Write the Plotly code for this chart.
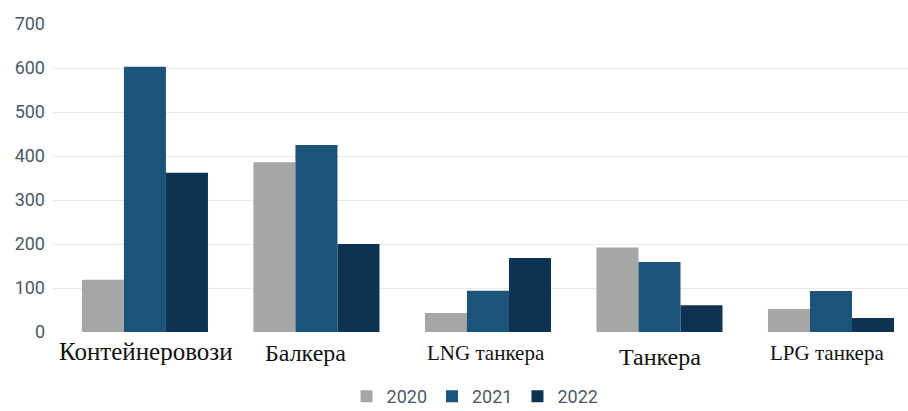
import plotly.graph_objects as go

# Fleet segments and yearly values
categories = ["Контейнеровози", "Балкера", "LNG танкера", "Танкера", "LPG танкера"]
years = ["2020", "2021", "2022"]
values_2020 = [119, 386, 43, 192, 52]
values_2021 = [603, 425, 94, 159, 93]
values_2022 = [362, 200, 168, 61, 32]
y_ticks = [0, 100, 200, 300, 400, 500, 600, 700]

series = [values_2020, values_2021, values_2022]
colors = ["#a6a6a6", "#1c5479", "#0e3252"]

fig = go.Figure()
for name, vals, col in zip(years, series, colors):
    fig.add_trace(go.Bar(x=categories, y=vals, name=name, marker_color=col,
                         marker_line_width=0))

# Category labels set in a serif face below the axis
label_style = [  # (x shift px, y shift px, font size)
    (1, -4, 25),
    (-11, -6, 24),
    (-2, -7, 21),
    (1, -10, 24),
    (-4, -7, 21),
]
for cat, (dx, dy, size) in zip(categories, label_style):
    fig.add_annotation(x=cat, y=0, yref="y", xref="x", text=cat, showarrow=False,
                       yanchor="top", xanchor="center", xshift=dx, yshift=dy,
                       font=dict(family="Liberation Serif", size=size, color="#111111"))

fig.update_layout(
    width=908, height=411,
    margin=dict(l=53, r=0, t=24, b=79, autoexpand=False),
    paper_bgcolor="white", plot_bgcolor="white",
    barmode="group", bargap=0.265, bargroupgap=0,
    showlegend=True,
    legend=dict(orientation="h", x=0.4936, xanchor="center", y=-0.27, yanchor="bottom",
                font=dict(family="Roboto", size=18, color="#4d5866"),
                itemwidth=30, traceorder="normal"),
    xaxis=dict(type="category", range=[-0.536, 4.449], showticklabels=False,
               showgrid=False, zeroline=False, showline=False, ticks=""),
    yaxis=dict(range=[0, 700], tickvals=y_ticks, showgrid=True, gridcolor="#e8e8e8",
               gridwidth=1, zeroline=False, showline=False, ticks="",
               ticklabelstandoff=7,
               tickfont=dict(family="Roboto", size=18, color="#4d5866")),
)

fig.write_html("out.html")
